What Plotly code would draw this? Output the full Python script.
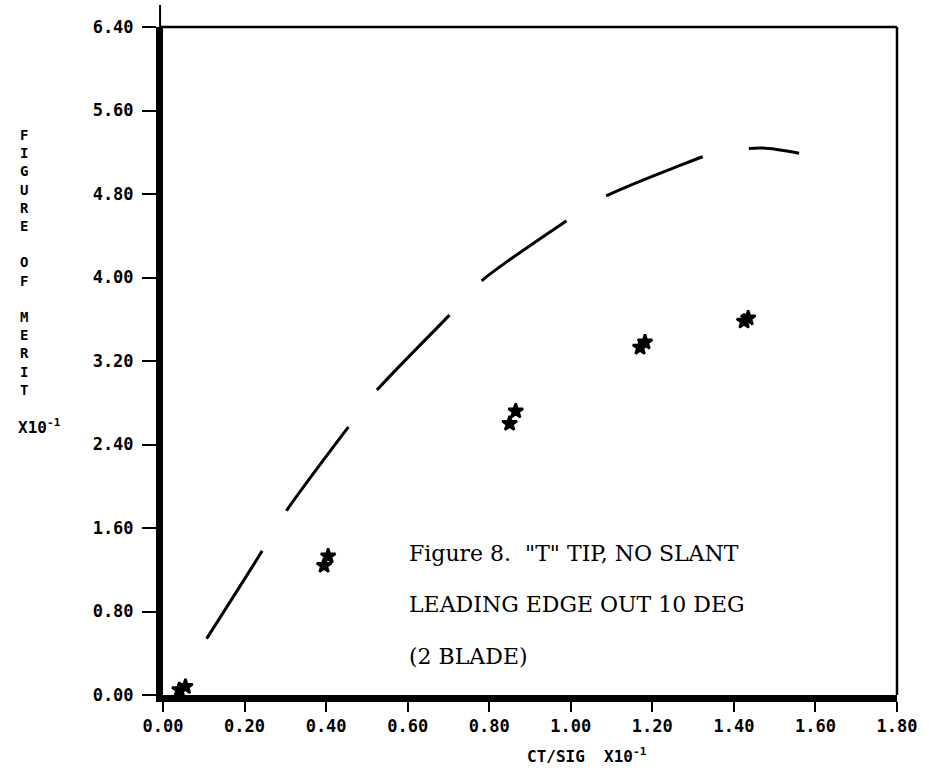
import plotly.graph_objects as go

# Theory curve (dashed)
curve_x = [0.107, 0.24, 0.30, 0.453, 0.52, 0.70, 0.782, 0.988, 1.065, 1.259, 1.36, 1.47, 1.56]
curve_y = [0.54, 1.36, 1.75, 2.56, 2.90, 3.63, 3.97, 4.54, 4.74, 5.06, 5.20, 5.24, 5.19]

# Test data points (pairs of overlapping symbols)
data_x = [0.040, 0.055, 0.395, 0.405, 0.850, 0.865, 1.170, 1.182, 1.425, 1.435]
data_y = [0.05, 0.08, 1.24, 1.33, 2.60, 2.72, 3.33, 3.38, 3.58, 3.61]

x_ticks = [0.0, 0.2, 0.4, 0.6, 0.8, 1.0, 1.2, 1.4, 1.6, 1.8]
y_ticks = [0.0, 0.8, 1.6, 2.4, 3.2, 4.0, 4.8, 5.6, 6.4]
x_ticktext = [f"{v:.2f}" for v in x_ticks]
y_ticktext = [f"{v:.2f}" for v in y_ticks]

y_title_words = ["FIGURE", "OF", "MERIT"]

caption = ["Figure 8.\u00a0\u00a0\"T\" TIP, NO SLANT",
           "LEADING EDGE OUT 10 DEG",
           "(2 BLADE)"]

mono = dict(family="DejaVu Sans Mono", size=17, color="black", weight="bold")

L, R, T, B, W, H = 163, 22, 27, 78, 929, 773
pw, ph = W - L - R, H - T - B

def px_to_paper(xp, yp):
    return (xp - L) / pw, (H - B - yp) / ph

fig = go.Figure()
fig.add_trace(go.Scatter(
    x=curve_x, y=curve_y, mode="lines",
    line=dict(color="black", width=3, dash="104px,47px", shape="spline", smoothing=0.8),
    showlegend=False, hoverinfo="skip"))
fig.add_trace(go.Scatter(
    x=data_x, y=data_y, mode="markers",
    marker=dict(symbol="star", size=11, color="black", line=dict(color="black", width=2.5)),
    showlegend=False))

fig.update_layout(
    width=W, height=H,
    margin=dict(l=L, r=R, t=T, b=B),
    paper_bgcolor="white", plot_bgcolor="white",
    xaxis=dict(range=[0, 1.8], tickvals=x_ticks, ticktext=x_ticktext,
               showgrid=False, zeroline=False, showline=True, linecolor="black", linewidth=7,
               ticks="outside", ticklen=10, tickwidth=2, tickcolor="black",
               tickfont=mono, ticklabelstandoff=0),
    yaxis=dict(range=[0, 6.4], tickvals=y_ticks, ticktext=y_ticktext,
               showgrid=False, zeroline=False, showline=True, linecolor="black", linewidth=7,
               ticks="outside", ticklen=14, tickwidth=2, tickcolor="black",
               tickfont=mono, ticklabelstandoff=5),
    shapes=[
        dict(type="line", xref="paper", yref="paper", x0=-0.004, x1=1, y0=1, y1=1,
             line=dict(color="black", width=2.5)),
        dict(type="line", xref="paper", yref="paper", x0=1, x1=1, y0=0, y1=1,
             line=dict(color="black", width=2.5)),
        dict(type="line", xref="paper", yref="paper", x0=-0.004, x1=-0.004, y0=1, y1=1.033,
             line=dict(color="black", width=2)),
    ],
)

ann = []
ytitle = "<br> <br>".join("<br>".join(list(w)) for w in y_title_words)
px, py = px_to_paper(23, 262)
ann.append(dict(text=ytitle, xref="paper", yref="paper", x=px, y=py, showarrow=False,
                xanchor="center", yanchor="middle",
                font=dict(family="DejaVu Sans Mono", size=14, color="black", weight="bold")))
px, py = px_to_paper(38, 426)
ann.append(dict(text="X10<sup>-1</sup>", xref="paper", yref="paper", x=px, y=py,
                showarrow=False, xanchor="center", yanchor="middle",
                font=dict(family="DejaVu Sans Mono", size=16, color="black", weight="bold")))
px, py = px_to_paper(530, 755)
ann.append(dict(text="CT/SIG\u00a0\u00a0X10<sup>-1</sup>", xref="paper", yref="paper",
                x=px, y=py, showarrow=False, xanchor="left", yanchor="middle",
                font=dict(family="DejaVu Sans Mono", size=16, color="black", weight="bold")))
for t, row in zip(caption, [553, 604, 656]):
    px, py = px_to_paper(410, row)
    ann.append(dict(text=t, xref="paper", yref="paper", x=px, y=py, showarrow=False,
                    xanchor="left", yanchor="middle",
                    font=dict(family="DejaVu Serif", size=22, color="black")))
fig.update_layout(annotations=ann)

fig.write_html("out.html")
